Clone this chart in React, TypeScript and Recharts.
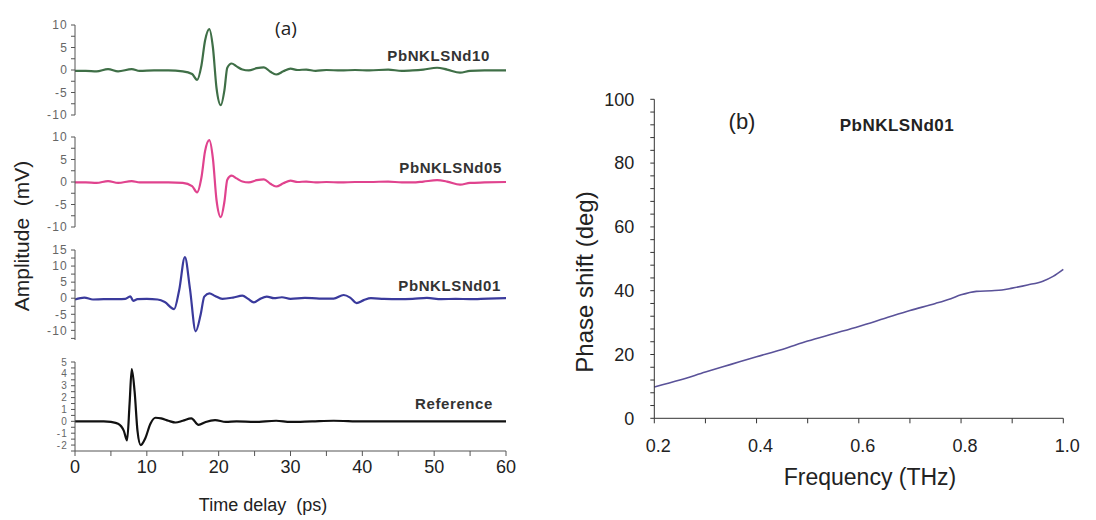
import { LineChart, Line, XAxis, YAxis } from 'recharts'

// ---- panel (a): THz time-domain traces ----
const nd10Time = [0, 1.5, 3, 4.6, 6, 7.9, 9, 11, 13, 15, 16.3, 17.0, 17.6, 18.1, 18.7, 19.2, 19.7, 20.3, 20.8, 21.2, 21.8, 22.5, 23.3, 24.2, 25.3, 26.3, 27.2, 28.0, 29.0, 30.0, 31.0, 32.2, 33.5, 35, 37, 39, 41, 43.6, 45.5, 47, 48.5, 50.4, 51.8, 53.6, 55, 57, 60]
const nd10Amp = [-0.2, -0.2, -0.3, 0.2, -0.3, 0.2, -0.2, -0.1, -0.1, -0.3, -0.9, -2.2, 1.0, 6.5, 9.1, 5.0, -4.0, -7.8, -4.5, 0.5, 1.45, 0.8, 0.1, -0.1, 0.4, 0.6, -0.4, -1.0, -0.3, 0.3, 0.0, 0.1, -0.2, 0.0, -0.1, 0.0, -0.1, 0.1, -0.2, -0.1, 0.1, 0.5, 0.1, -0.6, -0.2, -0.1, -0.1]

const nd05Time = [0, 1.5, 3, 4.6, 6, 7.9, 9, 11, 13, 15, 16.3, 17.0, 17.6, 18.1, 18.7, 19.2, 19.7, 20.3, 20.8, 21.2, 21.8, 22.5, 23.3, 24.2, 25.3, 26.3, 27.2, 28.0, 29.0, 30.0, 31.0, 32.2, 33.5, 35, 37, 39, 41, 43.6, 45.5, 47, 48.5, 50.4, 51.8, 53.6, 55, 57, 60]
const nd05Amp = [-0.1, -0.1, -0.2, 0.2, -0.2, 0.2, -0.1, -0.1, -0.1, -0.2, -0.9, -2.3, 1.0, 6.8, 9.3, 5.2, -4.0, -7.8, -4.4, 0.5, 1.4, 0.8, 0.1, -0.1, 0.4, 0.6, -0.4, -1.0, -0.3, 0.3, 0.0, 0.1, -0.1, 0.0, -0.1, 0.0, 0.0, 0.1, -0.1, -0.1, 0.1, 0.4, 0.1, -0.6, -0.2, -0.1, 0.0]

const nd01Time = [0, 1.3, 2.5, 4, 6, 7.0, 7.7, 8.1, 8.7, 10, 11.5, 12.5, 13.8, 14.5, 15.3, 16.0, 16.8, 17.5, 18.0, 18.7, 19.5, 20.5, 22, 23.3, 24.1, 24.9, 25.7, 26.7, 27.7, 28.8, 30, 32, 34, 36, 37.4, 38.3, 39.2, 40.2, 41.2, 43, 45, 47, 49, 51, 53, 55, 57.5, 60]
const nd01Amp = [-0.4, 0.2, -0.4, -0.3, -0.3, -0.2, 0.6, -0.8, -0.3, -0.2, -0.4, -1.2, -3.4, 2.5, 12.8, 3.0, -10.3, -5.0, 0.5, 1.5, 0.7, -0.2, 0.2, 0.8, -0.2, -1.3, -0.3, 0.5, 0.0, 0.3, -0.2, 0.1, -0.1, -0.1, 1.0, 0.2, -1.5, -0.6, 0.0, -0.2, -0.3, -0.2, 0.1, -0.3, -0.2, -0.3, -0.1, 0.0]

const refTime = [0, 2, 4, 5, 6, 6.8, 7.25, 7.6, 7.9, 8.3, 8.7, 9.15, 9.8, 10.5, 11.2, 12, 13, 14, 15, 16.2, 17.2, 18.2, 19.5, 21, 22.5, 25, 28, 30, 33, 36, 40, 45, 50, 55, 60]
const refAmp = [0, 0, 0, -0.05, -0.2, -0.8, -1.6, 1.5, 4.4, 2.5, -0.8, -2.0, -1.4, -0.2, 0.3, 0.25, 0.05, -0.1, 0.05, 0.25, -0.3, -0.05, 0.1, -0.05, 0.0, -0.05, 0.05, -0.05, 0.0, 0.05, 0.0, 0.0, 0.0, 0.0, 0.0]

const timeTicks = [0, 5, 10, 15, 20, 25, 30, 35, 40, 45, 50, 55, 60]
const timeLabels = [0, 10, 20, 30, 40, 50, 60]
const ticks10 = [-10, -7.5, -5, -2.5, 0, 2.5, 5, 7.5, 10]
const labels10 = [-10, -5, 0, 5, 10]
const ticks15 = [-12.5, -10, -7.5, -5, -2.5, 0, 2.5, 5, 7.5, 10, 12.5, 15]
const labels15 = [-10, -5, 0, 5, 10, 15]
const ticks5 = [-2.5, -2, -1.5, -1, -0.5, 0, 0.5, 1, 1.5, 2, 2.5, 3, 3.5, 4, 4.5, 5]
const labels5 = [-2, -1, 0, 1, 2, 3, 4, 5]

// ---- panel (b): phase shift of PbNKLSNd01 ----
const freq = [0.2, 0.25, 0.3, 0.35, 0.4, 0.45, 0.5, 0.55, 0.6, 0.65, 0.7, 0.75, 0.78, 0.8, 0.83, 0.86, 0.88, 0.9, 0.93, 0.96, 0.98, 1.0]
const phase = [9.8, 12.0, 14.5, 16.9, 19.3, 21.6, 24.2, 26.5, 28.8, 31.3, 33.8, 36.0, 37.5, 38.7, 39.8, 40.0, 40.2, 40.8, 41.8, 43.0, 44.5, 46.7]
const freqTicks = [0.2, 0.3, 0.4, 0.5, 0.6, 0.7, 0.8, 0.9, 1.0]
const freqLabels = [0.2, 0.4, 0.6, 0.8, 1.0]
const phaseTicks = [0, 4, 8, 12, 16, 20, 24, 28, 32, 36, 40, 44, 48, 52, 56, 60, 64, 68, 72, 76, 80, 84, 88, 92, 96, 100]
const phaseLabels = [0, 20, 40, 60, 80, 100]

const FONT = '"Liberation Sans", Arial, sans-serif'

const rows = (xs: number[], ys: number[]) => xs.map((x, i) => ({ x, y: ys[i] }))

type TraceProps = {
  top: number
  xs: number[]
  ys: number[]
  color: string
  domain: [number, number]
  ticks: number[]
  labels: number[]
  bottom?: boolean
  tickFont?: number
}

function Trace({ top, xs, ys, color, domain, ticks, labels, bottom, tickFont = 12 }: TraceProps) {
  const h = bottom ? 129 : 110
  return (
    <div style={{ position: 'absolute', left: 0, top }}>
      <LineChart width={520} height={h} data={rows(xs, ys)} margin={{ top: 10, right: 14, bottom: bottom ? 0 : 10, left: 0 }}>
        <XAxis
          type="number"
          dataKey="x"
          domain={[0, 60]}
          ticks={timeTicks}
          hide={!bottom}
          height={30}
          tickFormatter={v => (timeLabels.includes(v) ? String(v) : '')}
          tick={{ fill: '#222', fontSize: 18, fontFamily: FONT }}
          stroke="#555"
          tickSize={5}
          tickMargin={4}
        />
        <YAxis
          type="number"
          domain={domain}
          ticks={ticks}
          width={75}
          interval={0}
          tickFormatter={v => (labels.includes(v) ? String(v) : '')}
          tick={{ fill: '#666', fontSize: tickFont, fontFamily: FONT, letterSpacing: 1.2 }}
          stroke="#555"
          tickSize={4}
          tickMargin={3}
        />
        <Line type="monotone" dataKey="y" stroke={color} strokeWidth={2.2} dot={false} isAnimationActive={false} />
      </LineChart>
    </div>
  )
}

const tag = (text: string, right: number, y: number, size = 15) => (
  <div
    style={{
      position: 'absolute', left: right, top: y, transform: 'translate(-100%, -50%)',
      fontFamily: FONT, fontWeight: 'bold', fontSize: size, color: '#333', letterSpacing: 0.6, whiteSpace: 'nowrap',
    }}
  >
    {text}
  </div>
)

export default function App() {
  return (
    <div style={{ position: 'absolute', left: 0, top: 0, width: 1096, height: 520, background: '#fff', fontFamily: FONT }}>
      <Trace top={15} xs={nd10Time} ys={nd10Amp} color="#3f6f47" domain={[-10, 10]} ticks={ticks10} labels={labels10} />
      <Trace top={127} xs={nd05Time} ys={nd05Amp} color="#e0438e" domain={[-10, 10]} ticks={ticks10} labels={labels10} />
      <Trace top={240} xs={nd01Time} ys={nd01Amp} color="#3a3a9c" domain={[-13, 15]} ticks={ticks15} labels={labels15} />
      <Trace top={352} xs={refTime} ys={refAmp} color="#111" domain={[-2.5, 5]} ticks={ticks5} labels={labels5} bottom tickFont={10} />

      {tag('PbNKLSNd10', 490, 55)}
      {tag('PbNKLSNd05', 502, 167)}
      {tag('PbNKLSNd01', 501, 285)}
      {tag('Reference', 493, 403)}

      <div style={{ position: 'absolute', left: 286, top: 28, transform: 'translate(-50%, -50%)', fontFamily: '"Open Sans", sans-serif', fontSize: 19, color: '#222' }}>(a)</div>
      <div style={{ position: 'absolute', left: 263, top: 505, transform: 'translate(-50%, -50%)', fontSize: 18, color: '#222', whiteSpace: 'pre' }}>Time delay  (ps)</div>
      <div style={{ position: 'absolute', left: 22, top: 236, transform: 'translate(-50%, -50%) rotate(-90deg)', fontSize: 21, color: '#222', whiteSpace: 'pre' }}>Amplitude  (mV)</div>

      <div style={{ position: 'absolute', left: 560, top: 60 }}>
        <LineChart width={536} height={460} data={rows(freq, phase)} margin={{ top: 39.3, right: 32.7, bottom: 41.7, left: 0 }}>
          <XAxis
            type="number"
            dataKey="x"
            domain={[0.2, 1.0]}
            ticks={freqTicks}
            interval={0}
            height={60}
            tickFormatter={v => (freqLabels.includes(v) ? v.toFixed(1) : '')}
            tick={{ fill: '#222', fontSize: 18, fontFamily: FONT, dx: 4 }}
            stroke="#333"
            tickSize={5}
            tickMargin={16}
          />
          <YAxis
            type="number"
            domain={[0, 100]}
            ticks={phaseTicks}
            interval={0}
            width={94.3}
            tickFormatter={v => (phaseLabels.includes(v) ? String(v) : '')}
            tick={{ fill: '#222', fontSize: 18, fontFamily: FONT }}
            stroke="#333"
            tickSize={4}
            tickMargin={16}
          />
          <Line type="monotone" dataKey="y" stroke="#5a5299" strokeWidth={1.6} dot={false} isAnimationActive={false} />
        </LineChart>
      </div>

      <div style={{ position: 'absolute', left: 742, top: 122, transform: 'translate(-50%, -50%)', fontSize: 22, color: '#222' }}>(b)</div>
      <div style={{ position: 'absolute', left: 897, top: 126, transform: 'translate(-50%, -50%)', fontSize: 17, fontWeight: 'bold', color: '#222', letterSpacing: 0.5 }}>PbNKLSNd01</div>
      <div style={{ position: 'absolute', left: 870, top: 477, transform: 'translate(-50%, -50%)', fontSize: 23, color: '#222', whiteSpace: 'nowrap' }}>Frequency (THz)</div>
      <div style={{ position: 'absolute', left: 585, top: 282, transform: 'translate(-50%, -50%) rotate(-90deg)', fontSize: 24, color: '#222', whiteSpace: 'nowrap' }}>Phase shift (deg)</div>
    </div>
  )
}
